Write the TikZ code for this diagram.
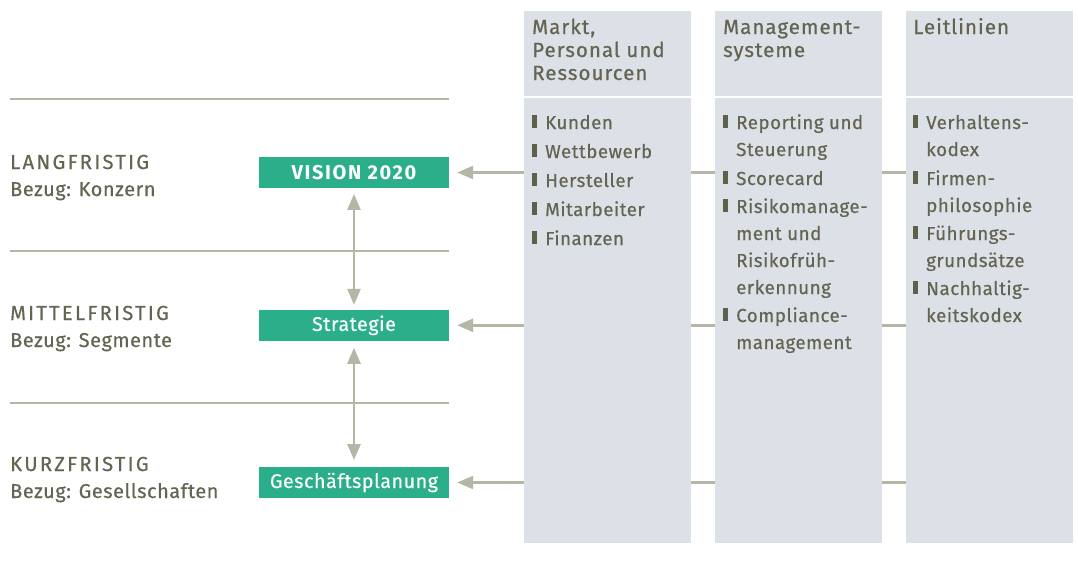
\documentclass[tikz,border=0pt]{standalone}
\usepackage{fontspec}
\setmainfont{Fira Sans}
\newfontfamily\headfont[LetterSpace=5,FakeBold=0.6]{Fira Sans}
\newfontfamily\itemfont[LetterSpace=2.5,FakeBold=0.4]{Fira Sans}
\newfontfamily\capfont[LetterSpace=11,FakeBold=0.4]{Fira Sans}
\newfontfamily\boldtrack[LetterSpace=8]{Fira Sans}
\usetikzlibrary{arrows.meta,backgrounds}
\definecolor{txt}{RGB}{99,100,82}
\definecolor{bul}{RGB}{95,96,75}
\definecolor{lin}{RGB}{181,183,166}
\definecolor{grn}{RGB}{43,174,138}
\definecolor{colfill}{RGB}{220,224,231}
\tikzset{
  column/.style={fill=colfill, draw=none, minimum width=167pt, minimum height=532pt, anchor=north west, inner sep=0pt},
  head/.style={anchor=base west, inner sep=0pt, text=txt, font=\headfont\fontsize{20.5}{24}\selectfont},
  item/.style={anchor=base west, inner sep=0pt, text=txt, font=\itemfont\fontsize{18.8}{22}\selectfont},
  bulletbox/.style={fill=bul, draw=none, minimum width=4.5pt, minimum height=13pt, inner sep=0pt, anchor=south west},
  lab/.style={anchor=base west, inner sep=0pt, text=txt, font=\itemfont\fontsize{20}{24}\selectfont},
  labcaps/.style={anchor=base west, inner sep=0pt, text=txt, font=\capfont\fontsize{20.3}{24}\selectfont},
  gbox/.style={fill=grn, text=white, minimum width=190pt, minimum height=30.5pt, inner sep=0pt, font=\itemfont\fontsize{19.8}{22}\selectfont},
  sep/.style={draw=lin, line width=2.5pt},
  arr/.style={draw=lin, line width=2.5pt, -{Triangle[length=16pt,width=13pt]}},
  darr/.style={draw=lin, line width=2.5pt, {Triangle[length=16pt,width=13pt]}-{Triangle[length=16pt,width=13pt]}},
}
\begin{document}
\begin{tikzpicture}[x=1pt,y=-1pt]
\useasboundingbox (0,0) rectangle (1078,560);
% columns
\node[column] (c1) at (524,11) {};
\node[column] (c2) at (715,11) {};
\node[column] (c3) at (906,11) {};
\coordinate (hs) at (0,97);
\draw[white, line width=1.5pt] (c1.west |- hs) -- (c1.east |- hs);
\draw[white, line width=1.5pt] (c2.west |- hs) -- (c2.east |- hs);
\draw[white, line width=1.5pt] (c3.west |- hs) -- (c3.east |- hs);
% headers
\node[head] (h1a) at (532,34) {Markt,};
\node[head] (h1b) at (532,57) {Personal und};
\node[head] (h1c) at (532,80) {Ressourcen};
\node[head] (h2a) at (723,34) {Management-};
\node[head] (h2b) at (723,57) {systeme};
\node[head] (h3a) at (913,34) {Leitlinien};
% column 1 items
\foreach \t/\y [count=\i] in {Kunden/129, Wettbewerb/158, Hersteller/187, Mitarbeiter/216, Finanzen/245}{
  \node[bulletbox] (ba\i) at (532,\y-0.5) {};
  \node[item] (ia\i) at (545,\y) {\t};
}
% column 2 items
\foreach \t/\y [count=\i] in {Reporting und/129, Steuerung/156, Scorecard/185, Risikomanage-/213, ment und/240, Risikofrüh-/267, erkennung/294, Compliance-/322, management/349}{
  \node[item] (ib\i) at (736,\y) {\t};
}
\foreach \y [count=\i] in {129,185,213,322}{
  \node[bulletbox] (bb\i) at (723,\y-0.5) {};
}
% column 3 items
\foreach \t/\y [count=\i] in {Verhaltens-/129, kodex/156, Firmen-/185, philosophie/212, Führungs-/240, grundsätze/267, Nachhaltig-/295, keitskodex/322}{
  \node[item] (ic\i) at (926,\y) {\t};
}
\foreach \y [count=\i] in {129,185,240,295}{
  \node[bulletbox] (bc\i) at (913,\y-0.5) {};
}
% left labels
\node[labcaps] (l1a) at (10,169) {LANGFRISTIG};
\node[lab] (l1b) at (10,196) {Bezug: Konzern};
\node[labcaps] (l2a) at (10,320) {MITTELFRISTIG};
\node[lab] (l2b) at (10,347) {Bezug: Segmente};
\node[labcaps] (l3a) at (10,471) {KURZFRISTIG};
\node[lab] (l3b) at (10,498) {Bezug: Gesellschaften};
% separators
\coordinate (s1a) at (10,99);  \coordinate (s1b) at (449,99);
\coordinate (s2a) at (10,251); \coordinate (s2b) at (449,251);
\coordinate (s3a) at (10,403); \coordinate (s3b) at (449,403);
\draw[sep] (s1a) -- (s1b);
\draw[sep] (s2a) -- (s2b);
\draw[sep] (s3a) -- (s3b);
% green boxes
\node[gbox, font=\boldtrack\bfseries\fontsize{20}{22}\selectfont] (v) at (354,172.5) {VISION 2020};
\node[gbox] (s) at (354,325.3) {Strategie};
\node[gbox] (g) at (354,482.5) {Geschäftsplanung};
% arrows
\begin{scope}[on background layer]
\draw[arr, shorten >=8pt] (c3.west |- v.east) -- (v.east);
\draw[arr, shorten >=8pt] (c3.west |- s.east) -- (s.east);
\draw[arr, shorten >=8pt] (c3.west |- g.east) -- (g.east);
\end{scope}
\draw[darr, shorten <=6pt, shorten >=5pt] (v.south) -- (s.north);
\draw[darr, shorten <=7pt, shorten >=7pt] (s.south) -- (g.north);
\end{tikzpicture}
\end{document}
